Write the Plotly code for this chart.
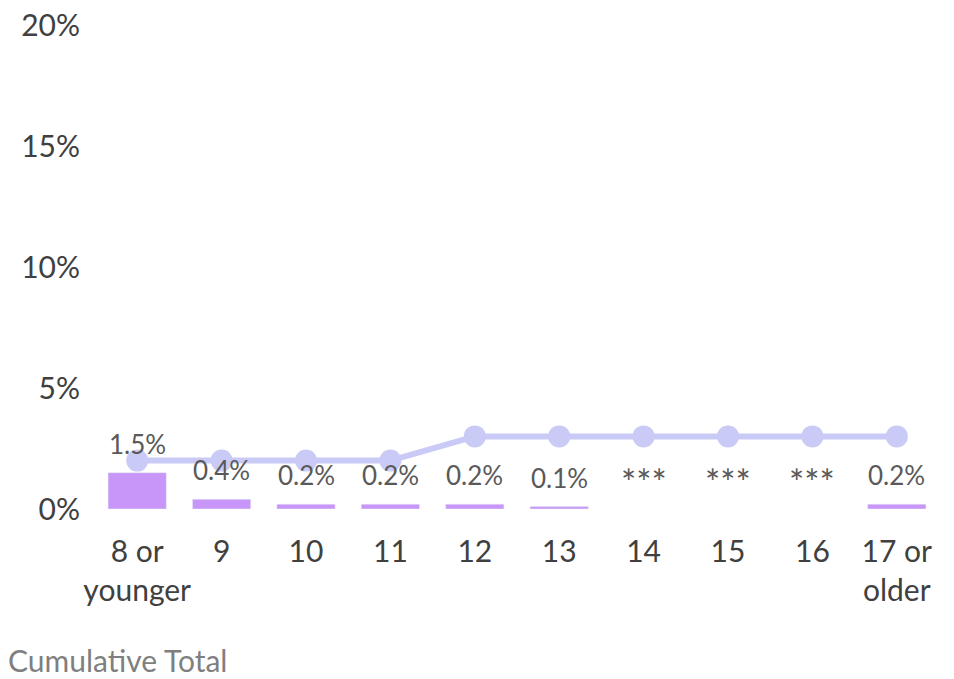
import plotly.graph_objects as go

categories = ["8 or<br>younger", "9", "10", "11", "12", "13", "14", "15", "16", "17 or<br>older"]
bar_values = [0.015, 0.004, 0.002, 0.002, 0.002, 0.001, None, None, None, 0.002]
bar_labels = ["1.5%", "0.4%", "0.2%", "0.2%", "0.2%", "0.1%", "***", "***", "***", "0.2%"]
cumulative = [0.02, 0.02, 0.02, 0.02, 0.03, 0.03, 0.03, 0.03, 0.03, 0.03]
y_ticks = [0, 0.05, 0.10, 0.15, 0.20]
y_tick_labels = ["0%", "5%", "10%", "15%", "20%"]

FONT = "Lato, 'Open Sans', sans-serif"
BAR_COLOR = "#c896f8"
LINE_COLOR = "#cacaf6"

xpos = list(range(len(categories)))

fig = go.Figure()
fig.add_trace(go.Bar(
    x=xpos, y=bar_values, marker_color=BAR_COLOR, width=0.69,
    hoverinfo="skip", showlegend=False,
))
fig.add_trace(go.Scatter(
    x=xpos, y=cumulative, mode="lines+markers",
    line=dict(color=LINE_COLOR, width=6),
    marker=dict(color=LINE_COLOR, size=22),
    showlegend=False,
))
for xp, v, t in zip(xpos, bar_values, bar_labels):
    if t == "***":
        fig.add_annotation(x=xp, y=0, text=t, showarrow=False, yshift=27,
                           font=dict(family=FONT, size=36, color="#595959"))
    else:
        fig.add_annotation(x=xp, y=v, text=t, showarrow=False, yshift=29,
                           font=dict(family=FONT, size=26, color="#595959"))

fig.add_annotation(xref="paper", yref="paper", x=-0.106, y=-0.313, xanchor="left",
                   yanchor="middle", text="Cumulative Total", showarrow=False,
                   font=dict(family=FONT, size=30, color="#7f7f7f"))

fig.update_layout(
    width=954, height=679,
    margin=dict(l=95, r=15, t=25, b=170),
    plot_bgcolor="white", paper_bgcolor="white",
    font=dict(family=FONT, color="#404040"),
)
fig.update_xaxes(range=[-0.5, 9.5], tickvals=xpos, ticktext=categories, tickangle=0,
                 showgrid=False, showline=False, zeroline=False, automargin=False,
                 tickfont=dict(family=FONT, size=30, color="#404040"),
                 ticks="outside", ticklen=16, tickcolor="rgba(0,0,0,0)")
fig.update_yaxes(range=[0, 0.2], tickvals=y_ticks, ticktext=y_tick_labels,
                 showgrid=False, zeroline=False, showline=False, automargin=False,
                 tickfont=dict(family=FONT, size=30, color="#404040"),
                 ticks="outside", ticklen=8, tickcolor="rgba(0,0,0,0)")

fig.write_html("out.html", config={"displayModeBar": False},
               post_script="document.body.style.margin='0';")
